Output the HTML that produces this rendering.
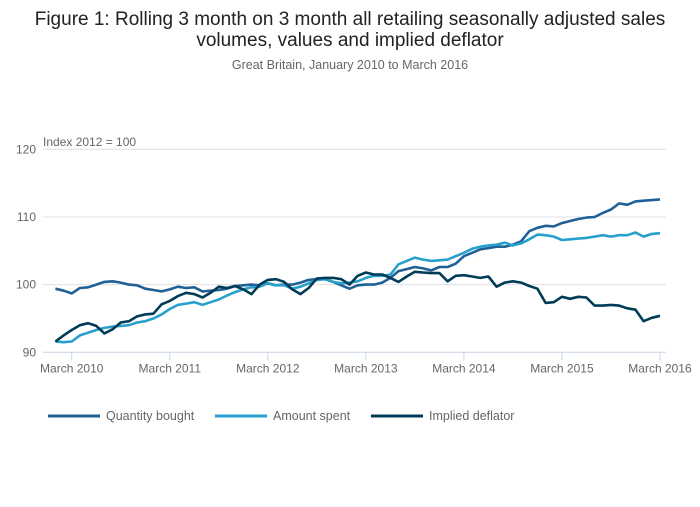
<!DOCTYPE html>
<html><head><meta charset="utf-8">
<style>
body{margin:0;background:#fff;width:700px;height:502px;overflow:hidden;font-family:"Liberation Sans",sans-serif;}
svg text{font-family:"Liberation Sans",sans-serif;}
</style></head>
<body>
<svg id="chart" width="700" height="502">
<text x="350" y="25" text-anchor="middle" font-size="19" fill="#222">Figure 1: Rolling 3 month on 3 month all retailing seasonally adjusted sales</text>
<text x="350" y="46" text-anchor="middle" font-size="19" fill="#222">volumes, values and implied deflator</text>
<text x="350" y="69" text-anchor="middle" font-size="12.5" fill="#666">Great Britain, January 2010 to March 2016</text>
<text x="43" y="146" font-size="12" fill="#666">Index 2012 = 100</text>
<g id="grid"></g><g id="series"></g>
<g>
<line x1="48" y1="416" x2="100" y2="416" stroke="#206095" stroke-width="3"/>
<text x="106" y="420" font-size="12.5" fill="#666">Quantity bought</text>
<line x1="215" y1="416" x2="267" y2="416" stroke="#27a0cc" stroke-width="3"/>
<text x="273" y="420" font-size="12.5" fill="#666">Amount spent</text>
<line x1="371" y1="416" x2="423" y2="416" stroke="#003c57" stroke-width="3"/>
<text x="429" y="420" font-size="12.5" fill="#666">Implied deflator</text>
</g>
</svg>
<script>
const yTicks=[90,100,110,120];
const xTickLabels=["March 2010","March 2011","March 2012","March 2013","March 2014","March 2015","March 2016"];
const xTickIndex=[2,14,26,38,50,62,74];
const quantity=[99.4,99.1,98.7,99.5,99.6,100.0,100.4,100.5,100.3,100.0,99.9,99.4,
99.2,99.0,99.3,99.7,99.5,99.6,99.0,99.1,99.2,99.4,99.8,99.9,
100.0,99.9,100.2,99.9,100.0,100.0,100.3,100.7,100.8,100.8,100.4,99.9,
99.4,99.9,100.0,100.0,100.3,101.0,102.0,102.3,102.6,102.4,102.1,102.6,
102.6,103.1,104.2,104.7,105.2,105.4,105.6,105.6,105.9,106.4,107.9,108.4,
108.7,108.6,109.1,109.4,109.7,109.9,110.0,110.6,111.1,112.0,111.8,112.3,
112.4,112.5,112.6];
const amount=[91.6,91.5,91.6,92.5,92.9,93.3,93.6,93.8,93.9,94.0,94.4,94.6,
95.0,95.6,96.4,97.0,97.2,97.4,97.0,97.4,97.8,98.4,98.9,99.3,
99.6,99.7,100.2,99.9,99.9,99.4,99.7,100.2,100.7,100.8,100.4,100.2,
100.3,100.5,101.0,101.3,101.3,101.5,103.0,103.5,104.0,103.7,103.5,103.6,
103.7,104.2,104.7,105.3,105.6,105.8,105.9,106.2,105.8,106.1,106.7,107.4,
107.3,107.1,106.6,106.7,106.8,106.9,107.1,107.3,107.1,107.3,107.3,107.7,
107.1,107.5,107.6];
const deflator=[91.6,92.5,93.3,94.0,94.3,93.9,92.8,93.4,94.4,94.6,95.3,95.6,
95.7,97.1,97.6,98.3,98.8,98.6,98.1,98.8,99.7,99.5,99.8,99.3,
98.6,100.0,100.7,100.8,100.4,99.3,98.6,99.5,100.9,101.0,101.0,100.8,
100.0,101.3,101.8,101.5,101.5,101.0,100.4,101.2,101.9,101.8,101.7,101.7,
100.5,101.3,101.4,101.2,101.0,101.2,99.7,100.3,100.5,100.3,99.8,99.4,
97.3,97.4,98.2,97.9,98.2,98.1,96.9,96.9,97.0,96.9,96.5,96.3,
94.6,95.1,95.4];
const NS="http://www.w3.org/2000/svg";
const x0=55.4,dx=8.17,yTop=149.3,yBot=352.3,vMin=90,vMax=120;
function xS(i){return x0+i*dx;}
function yS(v){return yBot-(v-vMin)/(vMax-vMin)*(yBot-yTop);}
const grid=document.getElementById('grid');
yTicks.forEach(v=>{
 const l=document.createElementNS(NS,'line');
 l.setAttribute('x1',43);l.setAttribute('x2',666);
 l.setAttribute('y1',yS(v));l.setAttribute('y2',yS(v));
 l.setAttribute('stroke',v===90?'#c8d4e6':'#e0e0e4');l.setAttribute('stroke-width',1);
 
 
 grid.appendChild(l);
 const t=document.createElementNS(NS,'text');
 t.setAttribute('x',36);t.setAttribute('y',yS(v)+4);t.setAttribute('text-anchor','end');
 t.setAttribute('font-size',12);t.setAttribute('fill','#666');t.textContent=v;
 
 
 grid.appendChild(t);
});
xTickIndex.forEach((idx,k)=>{
 const x=xS(idx);
 const l=document.createElementNS(NS,'line');
 l.setAttribute('x1',x);l.setAttribute('x2',x);l.setAttribute('y1',yBot);l.setAttribute('y2',yBot+8);
 l.setAttribute('stroke','#c8d4e6');
 
 
 grid.appendChild(l);
 const t=document.createElementNS(NS,'text');
 t.setAttribute('x',x);t.setAttribute('y',yBot+20);t.setAttribute('text-anchor','middle');
 t.setAttribute('font-size',12);t.setAttribute('fill','#666');t.textContent=xTickLabels[k];
 
 
 grid.appendChild(t);
});
const ser=document.getElementById('series');
function draw(data,color,name){
 const p=document.createElementNS(NS,'path');
 p.setAttribute('d',data.map((v,i)=>(i?'L':'M')+xS(i).toFixed(1)+' '+yS(v).toFixed(1)).join(' '));
 p.setAttribute('fill','none');p.setAttribute('stroke',color);p.setAttribute('stroke-width',2.6);
 p.setAttribute('stroke-linejoin','round');
 
 
 ser.appendChild(p);
}
draw(quantity,'#206095','quantity-bought-line');
draw(amount,'#27a0cc','amount-spent-line');
draw(deflator,'#003c57','implied-deflator-line');
</script>
</body></html>
